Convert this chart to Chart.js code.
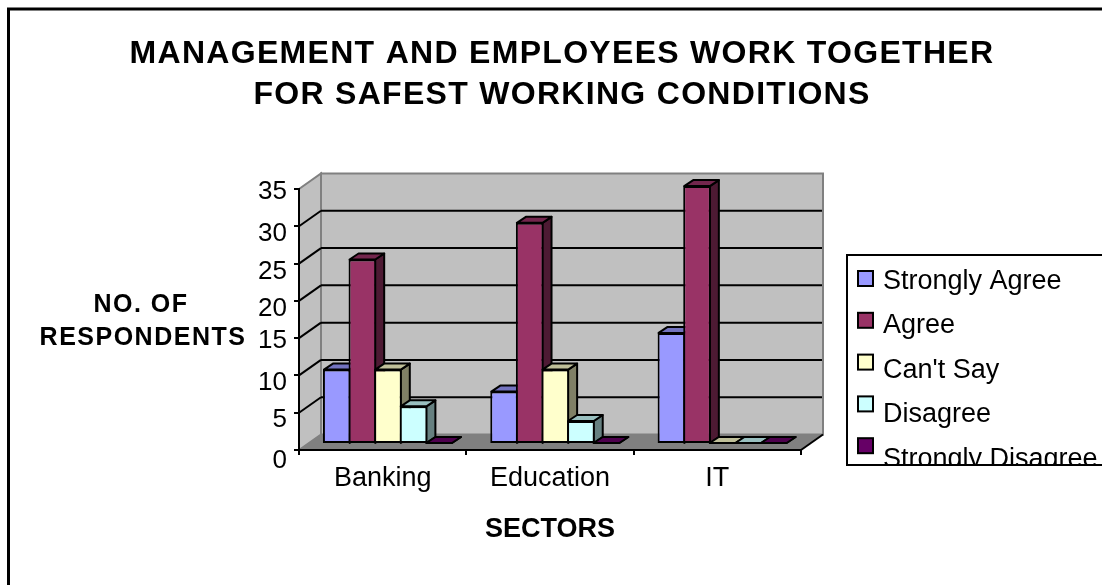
<!DOCTYPE html>
<html>
<head>
<meta charset="utf-8">
<title>Safest working conditions</title>
<script src="https://cdn.jsdelivr.net/npm/chart.js@4"></script>
<style>
    html, body { margin: 0; padding: 0; background: #fff; overflow: hidden; }
    canvas { display: block; }
</style>
</head>
<body>
<canvas id="safetyChart" width="1102" height="585"></canvas>

<script>
    const sectors = ['Banking', 'Education', 'IT'];
    const stronglyAgree = [10, 7, 15];
    const agree = [25, 30, 35];
    const cantSay = [10, 10, 0];
    const disagree = [5, 3, 0];
    const stronglyDisagree = [0, 0, 0];

    const seriesNames = ['Strongly Agree', 'Agree', "Can't Say", 'Disagree', 'Strongly Disagree'];
    const seriesValues = [stronglyAgree, agree, cantSay, disagree, stronglyDisagree];
    const seriesColors = [[153, 153, 255], [153, 51, 102], [255, 255, 204], [204, 255, 255], [102, 0, 102]];

    const titleLines = ['MANAGEMENT AND EMPLOYEES WORK TOGETHER', 'FOR SAFEST WORKING CONDITIONS'];
    const yTitleLines = ['NO. OF', 'RESPONDENTS'];
    const xTitle = 'SECTORS';

    const FONT = '"Liberation Sans", Arial, sans-serif';
    const WALL = { x: 22, y: 15.5 };     // глубина стенок
    const BAR_DEPTH = { x: 9, y: 6 };    // глубина столбца
    const BAR_SHIFT = { x: 5.3, y: -7 }; // столбцы стоят на середине пола
    const LABEL_DROP = { 0: 11, 5: 7, 10: 7, 15: 3, 20: 8, 25: 8, 30: 8, 35: 3 }; // подписи оси Y сидят неровно

    function shade(rgb, k) {
        return `rgb(${rgb.map(c => Math.round(c * k)).join(',')})`;
    }

    function poly(ctx, points, fill, stroke, width) {
        ctx.beginPath();
        points.forEach((p, i) => i ? ctx.lineTo(p[0], p[1]) : ctx.moveTo(p[0], p[1]));
        ctx.closePath();
        if (fill) { ctx.fillStyle = fill; ctx.fill(); }
        if (stroke) { ctx.strokeStyle = stroke; ctx.lineWidth = width; ctx.stroke(); }
    }

    function line(ctx, x1, y1, x2, y2, color, width) {
        ctx.beginPath();
        ctx.moveTo(x1, y1);
        ctx.lineTo(x2, y2);
        ctx.strokeStyle = color;
        ctx.lineWidth = width;
        ctx.stroke();
    }

    function text(ctx, str, x, y, font, align, spacing) {
        ctx.font = font;
        ctx.textAlign = align;
        ctx.textBaseline = 'alphabetic';
        ctx.letterSpacing = (spacing || 0) + 'px';
        ctx.fillStyle = '#000';
        ctx.fillText(str, x, y);
        ctx.letterSpacing = '0px';
    }

    // Фон, рамка, стенки и пол псевдо-3D
    const room = {
        id: 'room',
        beforeDraw(chart) {
            const { ctx, chartArea: a, scales } = chart;
            ctx.save();
            ctx.fillStyle = '#fff';
            ctx.fillRect(0, 0, chart.width, chart.height);

            // рамка открыта справа и снизу
            ctx.beginPath();
            ctx.moveTo(8.5, chart.height + 2);
            ctx.lineTo(8.5, 9);
            ctx.lineTo(chart.width + 2, 9);
            ctx.strokeStyle = '#000';
            ctx.lineWidth = 3;
            ctx.stroke();

            const backL = a.left + WALL.x, backR = a.right + WALL.x;
            const backT = a.top - WALL.y, backB = a.bottom - WALL.y;

            poly(ctx, [[backL, backT], [backR, backT], [backR, backB], [backL, backB]], '#c0c0c0', '#808080', 2);
            poly(ctx, [[a.left, a.top], [backL, backT], [backL, backB], [a.left, a.bottom]], '#c0c0c0', '#808080', 2);
            poly(ctx, [[a.left, a.bottom], [backL, backB], [backR, backB], [a.right, a.bottom]], '#808080');

            scales.y.ticks.forEach(t => {
                if (t.value === 0 || t.value === scales.y.max) return;
                const py = scales.y.getPixelForValue(t.value);
                line(ctx, backL, py - WALL.y, backR - 1, py - WALL.y, '#000', 2);
                line(ctx, a.left, py, backL, py - WALL.y, '#000', 2);
            });
            line(ctx, a.right, a.bottom, backR, backB, '#000', 2);
            ctx.restore();
        }
    };

    // Столбцы идут слева направо: лицо следующего перекрывает бок предыдущего
    const bars3d = {
        id: 'bars3d',
        beforeDatasetsDraw(chart) {
            const { ctx } = chart;
            ctx.save();
            ctx.translate(BAR_SHIFT.x, BAR_SHIFT.y);
            ctx.lineJoin = 'round';
            seriesNames.forEach((name, i) => {
                const meta = chart.getDatasetMeta(i);
                const rgb = seriesColors[i];
                meta.data.forEach(bar => {
                    const r = bar.x + bar.width / 2 - 1, l = bar.x - bar.width / 2 + 1;
                    const dx = BAR_DEPTH.x, dy = BAR_DEPTH.y;
                    poly(ctx, [[r, bar.y], [r + dx, bar.y - dy], [r + dx, bar.base - dy], [r, bar.base]], shade(rgb, 0.5), '#000', 2);
                    poly(ctx, [[l, bar.y], [l + dx, bar.y - dy], [r + dx, bar.y - dy], [r, bar.y]], shade(rgb, 0.75), '#000', 2);
                });
                meta.controller.draw();
            });
            ctx.restore();
            return false;
        }
    };

    // Заголовки и легенда
    const labels = {
        id: 'labels',
        afterDraw(chart) {
            const { ctx } = chart;
            ctx.save();
            titleLines.forEach((s, i) => text(ctx, s, 562, 62.5 + i * 41.5, 'bold 32px ' + FONT, 'center', 1.3));

            // белая плашка подписи оси срезает низ цифр "20"
            ctx.fillStyle = '#fff';
            ctx.fillRect(254, 317, 38, 7);
            yTitleLines.forEach((s, i) => text(ctx, s, i ? 143 : 141, 312 + i * 33, 'bold 25px ' + FONT, 'center', 1.5));

            const box = { left: 847, top: 255, bottom: 465 };
            ctx.fillStyle = '#fff';
            ctx.fillRect(box.left, box.top, chart.width, box.bottom - box.top);
            ctx.beginPath();
            ctx.rect(box.left, box.top, chart.width, box.bottom - box.top);
            ctx.strokeStyle = '#000';
            ctx.lineWidth = 2;
            ctx.stroke();

            ctx.save();
            ctx.beginPath();
            ctx.rect(box.left, box.top, chart.width, box.bottom - box.top);
            ctx.clip();
            seriesNames.forEach((name, i) => {
                const sy = 271 + i * 41.8;
                ctx.fillStyle = shade(seriesColors[i], 1);
                ctx.fillRect(858, sy, 15, 15);
                ctx.strokeStyle = '#000';
                ctx.lineWidth = 2;
                ctx.strokeRect(858, sy, 15, 15);
                text(ctx, name, 883, 289 + i * 44.4, '27px ' + FONT, 'left');
            });
            ctx.restore();
            ctx.restore();
        }
    };

    Chart.defaults.font.family = FONT;
    Chart.defaults.color = '#000';

    new Chart(document.getElementById('safetyChart'), {
        type: 'bar',
        data: {
            labels: sectors,
            datasets: seriesNames.map((name, i) => ({
                label: name,
                data: seriesValues[i],
                yAxisID: 'yBars',
                backgroundColor: shade(seriesColors[i], 1),
                borderColor: '#000',
                borderWidth: 2,
                borderSkipped: false,
                categoryPercentage: 0.765,
                barPercentage: 1.08
            }))
        },
        options: {
            responsive: false,
            animation: false,
            layout: { padding: { left: 0, right: 301, top: 189, bottom: 0 } },
            plugins: { legend: { display: false }, tooltip: { enabled: false } },
            scales: {
                x: {
                    afterFit: s => { s.height = 135; },
                    grid: { drawOnChartArea: false, color: '#000', lineWidth: 2, tickLength: 5 },
                    border: { color: '#000', width: 2 },
                    ticks: { font: { size: 27 }, padding: 7, maxRotation: 0 },
                    title: { display: true, text: xTitle, font: { size: 27, weight: 'bold' }, padding: { top: 0, bottom: 39 } }
                },
                y: {
                    min: 0,
                    max: 35,
                    afterFit: s => { s.width = 299; },
                    grid: { drawOnChartArea: false, color: '#000', lineWidth: 2, tickLength: 5 },
                    border: { color: '#000', width: 2 },
                    ticks: {
                        stepSize: 5,
                        padding: 7,
                        autoSkip: false,
                        // пустая первая строка опускает подпись на половину межстрочного
                        font: c => {
                            const drop = c.tick ? LABEL_DROP[c.tick.value] : 0;
                            return { size: 26, lineHeight: drop ? (2 * drop) + 'px' : 1.2 };
                        },
                        callback: v => ['', String(v)]
                    }
                },
                // столбцы стоят дальше передней плоскости, поэтому масштаб чуть короче
                yBars: { display: false, min: 0, max: 35.56 }
            }
        },
        plugins: [room, bars3d, labels]
    });
</script>
</body>
</html>
